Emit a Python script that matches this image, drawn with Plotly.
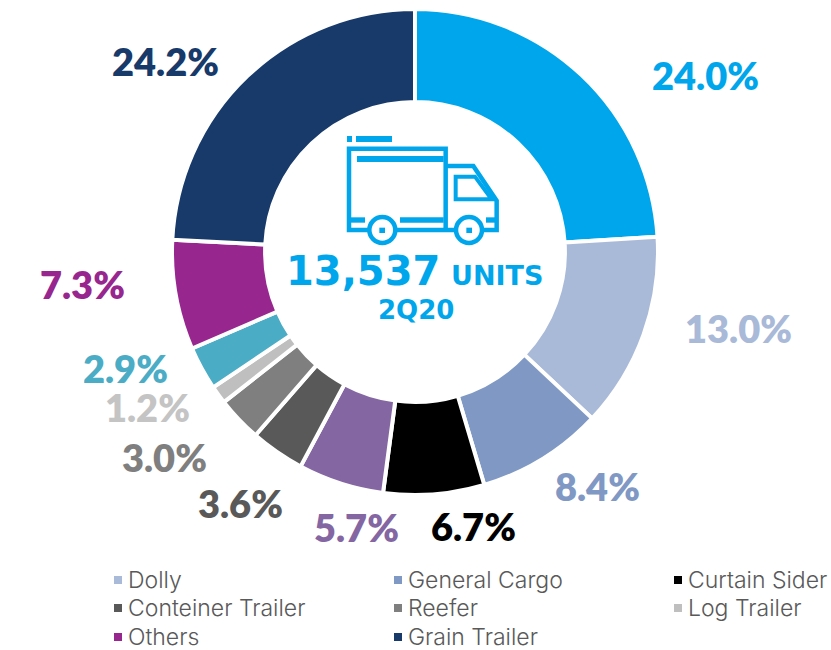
import plotly.graph_objects as go

categories = ["Semi-trailer", "Dolly", "General Cargo", "Curtain Sider", "Container", "Conteiner Trailer",
              "Reefer", "Log Trailer", "Bulk", "Others", "Grain Trailer"]
values = [24.0, 13.0, 8.4, 6.7, 5.7, 3.6, 3.0, 1.2, 2.9, 7.3, 24.2]
colors = ["#00A6EB", "#A9B9D8", "#7F98C4", "#000000", "#8466A3", "#595959",
          "#7F7F7F", "#BFBFBF", "#4BACC6", "#98268F", "#173A6A"]
label_colors = ["#00A6EB", "#A9B9D8", "#7F98C4", "#000000", "#8466A3", "#595959",
                "#7F7F7F", "#C4C4C4", "#4BACC6", "#98268F", "#173A6A"]
label_pos = [(705, 75), (738, 328), (597, 486), (473, 526), (356, 527), (240, 503),
             (164, 457), (147, 407), (126, 368), (82, 284), (165, 61)]
legend_items = [("Dolly", 1, 118, 580), ("General Cargo", 2, 398, 580), ("Curtain Sider", 3, 678, 580),
                ("Conteiner Trailer", 5, 118, 608), ("Reefer", 6, 398, 608), ("Log Trailer", 7, 678, 608),
                ("Others", 9, 118, 637), ("Grain Trailer", 10, 398, 637)]

W, H = 831, 650
BLUE = "#00A6EB"
fx = lambda x: x / W
fy = lambda y: 1 - y / H

fig = go.Figure(go.Pie(
    labels=categories, values=values, sort=False, direction="clockwise", rotation=0,
    hole=0.617, textinfo="none", hoverinfo="label+percent",
    marker=dict(colors=colors, line=dict(color="white", width=4)),
    domain=dict(x=[fx(172), fx(658)], y=[fy(495), fy(9)]), showlegend=False))

def text(x, y, s, font, xanchor="center"):
    return dict(x=fx(x), y=fy(y), xref="paper", yref="paper", text=s, showarrow=False,
                xanchor=xanchor, yanchor="middle", font=font)

ann = []
for v, c, (x, y) in zip(values, label_colors, label_pos):
    ann.append(text(x, y, f"{v:.1f}%", dict(family="Lato", size=38, color=c, weight=800)))
shapes = []
for name, idx, x, y in legend_items:
    shapes.append(dict(type="rect", xref="paper", yref="paper", x0=fx(x - 4), x1=fx(x + 4),
                       y0=fy(y + 4), y1=fy(y - 4), fillcolor=colors[idx], line_width=0))
    ann.append(text(x + 8, y, name, dict(family="Inter", size=23, color="#595959", weight=300), "left"))

bold = dict(family="DejaVu Sans", color=BLUE, weight=700)
ann.append(text(363, 271, "13,537", dict(size=40, **bold)))
ann.append(text(497, 275, "UNITS", dict(size=27, **bold)))
ann.append(text(416, 310, "2Q20", dict(size=26, **bold)))

# truck icon, drawn in zoom-grid units of the centre area
zx = lambda x: fx(270 + x / 3)
zy = lambda y: fy(120 + y / 3)

def path(pts, close=False):
    s = " ".join(("M" if i == 0 else "L") + f"{zx(a):.5f},{zy(b):.5f}" for i, (a, b) in enumerate(pts))
    return s + (" Z" if close else "")

def stroke(pts, close=False, w=4.5):
    shapes.append(dict(type="path", xref="paper", yref="paper", path=path(pts, close),
                       line=dict(color=BLUE, width=w)))

def bar(x0, x1, y0, y1):
    shapes.append(dict(type="rect", xref="paper", yref="paper", x0=zx(x0), x1=zx(x1), y0=zy(y1), y1=zy(y0),
                       fillcolor=BLUE, line_width=0))

bar(231, 246, 48, 66)
bar(258, 366, 48, 66)
bar(261, 521, 108, 126)
bar(237, 285, 292, 308)
bar(390, 521, 292, 308)
bar(648, 680, 292, 308)
stroke([(527, 330), (527, 86), (237, 86), (237, 330), (680, 330), (680, 242), (610, 138), (527, 138)])
stroke([(557, 170), (615, 170), (665, 238), (557, 238)], close=True, w=4)
for cx, hub in ((337, 328), (597, 589)):
    shapes.append(dict(type="circle", xref="paper", yref="paper", x0=zx(cx - 39), x1=zx(cx + 39),
                       y0=zy(369), y1=zy(291), fillcolor="white", line=dict(color=BLUE, width=4.5)))
    bar(hub, hub + 17, 323, 339)

fig.update_layout(width=W, height=H, margin=dict(l=0, r=0, t=0, b=0), paper_bgcolor="white",
                  annotations=ann, shapes=shapes, showlegend=False)
fig.write_html("out.html", config=dict(displayModeBar=False), post_script="document.body.style.margin='0';")
